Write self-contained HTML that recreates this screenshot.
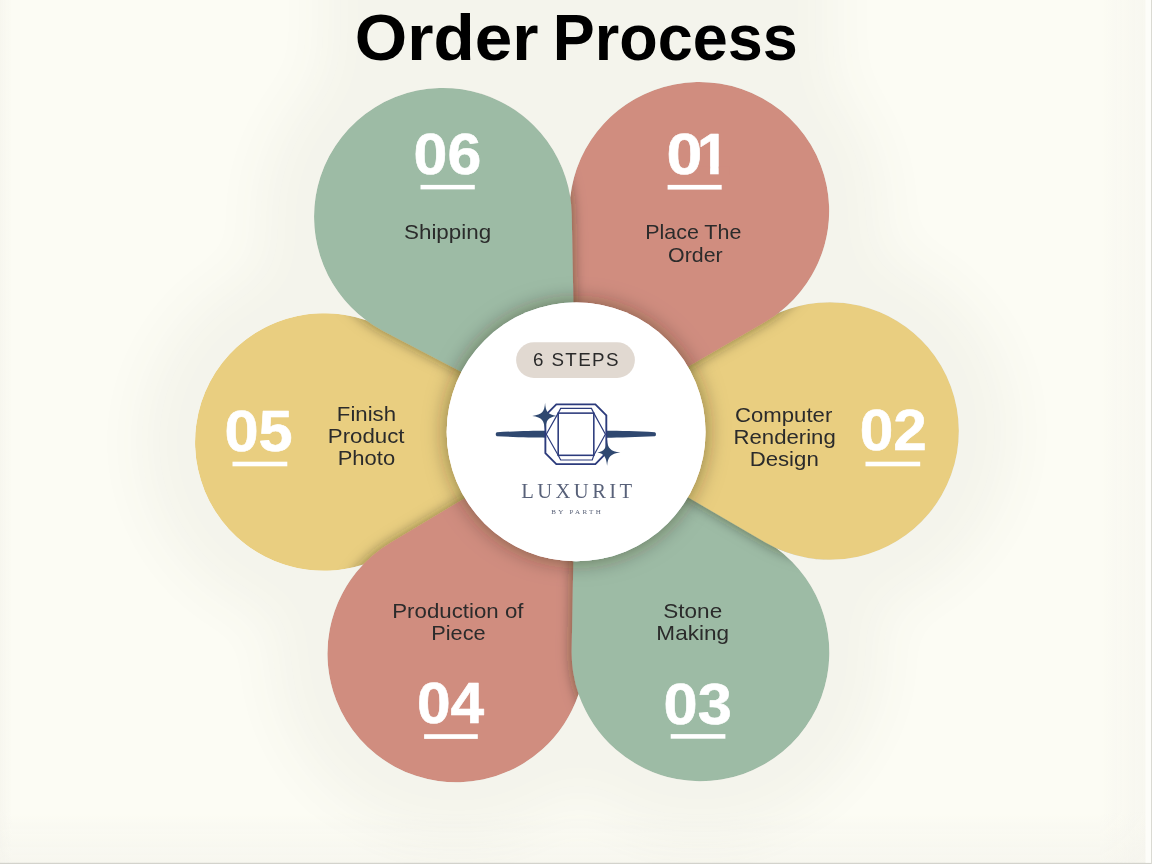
<!DOCTYPE html>
<html><head><meta charset="utf-8"><title>Order Process</title>
<style>
html,body{margin:0;padding:0}
body{width:1152px;height:864px;overflow:hidden;position:relative;background:#fcfcf4;font-family:"Liberation Sans",sans-serif}
svg{font-family:"Liberation Sans",sans-serif}
</style></head><body>
<svg width="1152" height="864" viewBox="0 0 1152 864" style="position:absolute;left:0;top:0;will-change:transform">
<defs>
<filter id="glow" x="-40%" y="-40%" width="180%" height="180%"><feGaussianBlur stdDeviation="26"/></filter>
<filter id="sh" x="-30%" y="-30%" width="160%" height="160%"><feDropShadow dx="0" dy="0" stdDeviation="7" flood-color="#1c1c08" flood-opacity="0.52"/></filter>
<filter id="shc" x="-30%" y="-30%" width="160%" height="160%"><feDropShadow dx="0" dy="0" stdDeviation="11" flood-color="#2a2010" flood-opacity="0.5"/></filter>
<linearGradient id="edgeR" x1="0" x2="1" y1="0" y2="0"><stop offset="0" stop-color="#f4f3ec" stop-opacity="0"/><stop offset="1" stop-color="#f4f3ec" stop-opacity="0.6"/></linearGradient>
<linearGradient id="edgeB" x1="0" x2="0" y1="0" y2="1"><stop offset="0" stop-color="#f4f3ec" stop-opacity="0"/><stop offset="1" stop-color="#f4f3ec" stop-opacity="0.6"/></linearGradient>
<linearGradient id="edgeL" x1="1" x2="0" y1="0" y2="0"><stop offset="0" stop-color="#f4f3ec" stop-opacity="0"/><stop offset="1" stop-color="#f4f3ec" stop-opacity="0.6"/></linearGradient>
<clipPath id="flower">
<path d="M575.80,431.80 L394.18,549.99 A128.85,128.85 0 1 1 385.22,328.68 Z"/>
<path d="M575.80,431.80 L585.03,648.00 A128.85,128.85 0 1 1 390.12,542.94 Z"/>
<path d="M575.80,431.80 L764.85,540.77 A128.85,128.85 0 1 1 571.67,649.96 Z"/>
<path d="M575.80,431.80 L764.34,320.14 A128.85,128.85 0 1 1 765.04,542.28 Z"/>
<path d="M575.80,431.80 L569.65,214.42 A129.80,128.85 0 1 1 764.92,322.03 Z"/>
<path d="M575.80,431.80 L383.15,330.96 A128.85,128.85 0 1 1 571.73,214.39 Z"/>
</clipPath></defs>
<rect x="1100" y="0" width="52" height="864" fill="url(#edgeR)"/><rect x="0" y="812" width="1152" height="52" fill="url(#edgeB)"/><rect x="0" y="0" width="12" height="864" fill="url(#edgeL)"/>
<rect x="0" y="862.8" width="1152" height="1.2" fill="#d3d3cc"/><rect x="1151" y="0" width="1" height="864" fill="#dadad3"/><rect x="1145.5" y="0" width="5.5" height="862.8" fill="#fdfdf9"/>
<g filter="url(#glow)" opacity="0.044" fill="#554" stroke="#554" stroke-width="110" stroke-linejoin="round">
<path d="M575.80,431.80 L394.18,549.99 A128.85,128.85 0 1 1 385.22,328.68 Z"/>
<path d="M575.80,431.80 L585.03,648.00 A128.85,128.85 0 1 1 390.12,542.94 Z"/>
<path d="M575.80,431.80 L764.85,540.77 A128.85,128.85 0 1 1 571.67,649.96 Z"/>
<path d="M575.80,431.80 L764.34,320.14 A128.85,128.85 0 1 1 765.04,542.28 Z"/>
<path d="M575.80,431.80 L569.65,214.42 A129.80,128.85 0 1 1 764.92,322.03 Z"/>
<path d="M575.80,431.80 L383.15,330.96 A128.85,128.85 0 1 1 571.73,214.39 Z"/>
<rect x="378" y="-80" width="400" height="150"/>
</g>
<g clip-path="url(#flower)">
<path d="M575.80,431.80 L394.18,549.99 A128.85,128.85 0 1 1 385.22,328.68 Z" fill="#e9ce80"/>
<path d="M575.80,431.80 L585.03,648.00 A128.85,128.85 0 1 1 390.12,542.94 Z" fill="#d08d7f" filter="url(#sh)"/>
<path d="M575.80,431.80 L764.85,540.77 A128.85,128.85 0 1 1 571.67,649.96 Z" fill="#9dbba5" filter="url(#sh)"/>
<path d="M575.80,431.80 L764.34,320.14 A128.85,128.85 0 1 1 765.04,542.28 Z" fill="#e9ce80" filter="url(#sh)"/>
<path d="M575.80,431.80 L569.65,214.42 A129.80,128.85 0 1 1 764.92,322.03 Z" fill="#d08d7f" filter="url(#sh)"/>
<path d="M575.80,431.80 L383.15,330.96 A128.85,128.85 0 1 1 571.73,214.39 Z" fill="#9dbba5" filter="url(#sh)"/>
<circle cx="576.1" cy="431.9" r="129.4" fill="#fff" filter="url(#shc)"/>
</g>
<circle cx="576.1" cy="431.9" r="129.4" fill="#fff"/>
<g text-anchor="middle" font-weight="700" fill="#000">
<text x="446.68" y="60.20" font-size="64" textLength="183.64" lengthAdjust="spacingAndGlyphs">Order</text>
<text x="675.28" y="60.20" font-size="64" textLength="245.04" lengthAdjust="spacingAndGlyphs">Process</text>
</g>
<!-- numbers -->
<g text-anchor="middle" font-weight="700" fill="#fff" stroke="#fff" stroke-width="0.6" stroke-linejoin="round">
<text x="447.42" y="174.30" font-size="57.4" textLength="67.64" lengthAdjust="spacingAndGlyphs">06</text>
<text y="173.80" font-size="57.4" text-anchor="start"><tspan x="666.5" textLength="35.8" lengthAdjust="spacingAndGlyphs">0</tspan><tspan x="697.1">1</tspan></text>
<text x="893.29" y="450.40" font-size="57.4" textLength="67.10" lengthAdjust="spacingAndGlyphs">02</text>
<text x="697.71" y="723.60" font-size="57.4" textLength="68.18" lengthAdjust="spacingAndGlyphs">03</text>
<text x="450.60" y="723.10" font-size="57.4" textLength="67.28" lengthAdjust="spacingAndGlyphs">04</text>
<text x="258.55" y="450.60" font-size="57.4" textLength="68.18" lengthAdjust="spacingAndGlyphs">05</text>
</g>
<g fill="#d08d7f"><rect x="699.4" y="166.6" width="10.7" height="8.4"/><rect x="718.7" y="166.6" width="10.5" height="8.4"/></g>
<g fill="#fff">
<rect x="420.5" y="184.9" width="54.3" height="4.5"/>
<rect x="667.6" y="184.9" width="54.1" height="4.7"/>
<rect x="865.5" y="461.7" width="54.7" height="4.6"/>
<rect x="670.7" y="734.1" width="54.7" height="4.6"/>
<rect x="424.1" y="734.2" width="53.7" height="4.7"/>
<rect x="232.5" y="461.7" width="54.8" height="4.6"/>
</g>

<!-- labels -->
<g text-anchor="middle" fill="#2b2b2b">
<text x="447.58" y="239.10" font-size="20.9" textLength="87.12" lengthAdjust="spacingAndGlyphs">Shipping</text>
<text x="693.26" y="239.10" font-size="20.9" textLength="96.12" lengthAdjust="spacingAndGlyphs">Place The</text>
<text x="695.41" y="261.70" font-size="20.9" textLength="54.56" lengthAdjust="spacingAndGlyphs">Order</text>
<text x="783.64" y="421.60" font-size="20.9" textLength="97.30" lengthAdjust="spacingAndGlyphs">Computer</text>
<text x="784.62" y="444.00" font-size="20.9" textLength="102.26" lengthAdjust="spacingAndGlyphs">Rendering</text>
<text x="784.20" y="465.60" font-size="20.9" textLength="69.10" lengthAdjust="spacingAndGlyphs">Design</text>
<text x="692.75" y="618.10" font-size="20.9" textLength="58.88" lengthAdjust="spacingAndGlyphs">Stone</text>
<text x="692.71" y="640.40" font-size="20.9" textLength="72.70" lengthAdjust="spacingAndGlyphs">Making</text>
<text x="457.89" y="617.80" font-size="20.9" textLength="131.22" lengthAdjust="spacingAndGlyphs">Production of</text>
<text x="458.49" y="640.40" font-size="20.9" textLength="54.36" lengthAdjust="spacingAndGlyphs">Piece</text>
<text x="366.42" y="420.50" font-size="20.9" textLength="59.12" lengthAdjust="spacingAndGlyphs">Finish</text>
<text x="366.18" y="442.60" font-size="20.9" textLength="76.80" lengthAdjust="spacingAndGlyphs">Product</text>
<text x="366.42" y="465.00" font-size="20.9" textLength="57.44" lengthAdjust="spacingAndGlyphs">Photo</text>
</g>

<!-- centre pill -->
<rect x="516.1" y="342.2" width="118.8" height="35.7" rx="17.85" fill="#e1d9d1"/>
<g text-anchor="middle" fill="#2a2a2a">
<text x="575.72" y="366.40" font-size="18.8" textLength="85.46" lengthAdjust="spacing">6 STEPS</text>
</g>

<!-- logo -->
<g id="logo" transform="translate(486,390) scale(0.15625)">
<path d="M70,270 C180,264 300,261 385,261 L385,305 C300,305 180,302 70,296 C60,295 60,271 70,270 Z" fill="#2f4870"/>
<path d="M1080,270 C970,264 850,261 770,261 L770,305 C850,305 970,302 1080,296 C1090,295 1090,271 1080,270 Z" fill="#2f4870"/>
<g fill="none" stroke="#2c3b7c" stroke-linejoin="miter">
<path d="M450,92 L700,92 L770,162 L770,402 L700,474 L450,474 L380,404 L380,162 Z" stroke-width="12"/>
<rect x="462" y="148" width="228" height="270" stroke-width="10"/>
<path d="M462,148 L478,118 L675,118 L690,148 M462,418 L478,448 L680,448 L690,418 M462,148 L386,283 L462,418 M690,148 L764,283 L690,418" stroke-width="7.5"/>
</g>
<path d="M378,82 C382,140 395,158 452,166 C395,174 384,195 378,258 C372,195 360,174 296,166 C360,158 374,140 378,82 Z" fill="#2f4870"/>
<path d="M775,318 C779,372 795,392 860,400 C795,408 781,428 775,484 C769,428 757,408 712,400 C757,392 771,372 775,318 Z" fill="#2f4870"/>
</g>
<g text-anchor="middle" fill="#586179" style="font-family:'Liberation Serif',serif">
<text x="576.71" y="497.70" font-size="20.6" textLength="110.90" lengthAdjust="spacing">LUXURIT</text>
</g>
<g text-anchor="middle" fill="#5a6278" style="font-family:'Liberation Serif',serif">
<text x="575.91" y="513.80" font-size="7" textLength="49.56" lengthAdjust="spacing">BY PARTH</text>
</g>

</svg>
</body></html>
